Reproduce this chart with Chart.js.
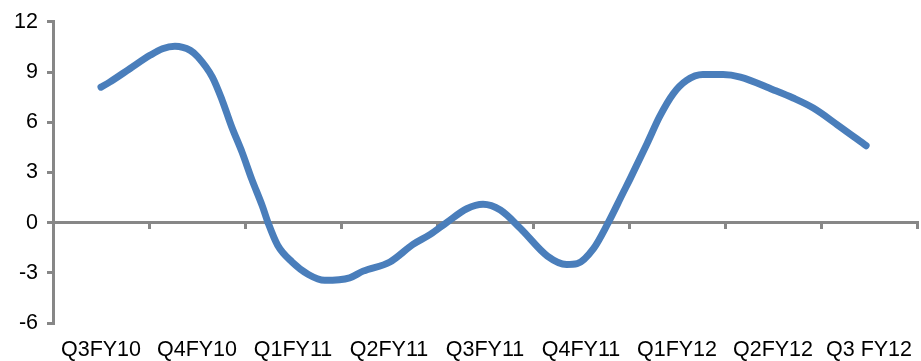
<!DOCTYPE html>
<html>
<head>
<meta charset="utf-8">
<script src="https://cdn.jsdelivr.net/npm/chart.js@4/dist/chart.umd.min.js"></script>
<style>
  html, body { margin: 0; padding: 0; background: #ffffff; overflow: hidden; }
  #wrap { width: 921px; height: 361px; position: relative; }
</style>
</head>
<body>
<div id="wrap"><canvas id="chart"></canvas></div>
<script>
// Quarter labels along the bottom axis
const quarters = ['Q3FY10', 'Q4FY10', 'Q1FY11', 'Q2FY11', 'Q3FY11', 'Q4FY11', 'Q1FY12', 'Q2FY12', 'Q3 FY12'];

// Observation position, in quarters from Q3FY10 (0 = Q3FY10, 8 = Q3 FY12)
const period = [
  0.00, 0.09, 0.30, 0.51, 0.64, 0.77, 0.93, 1.01, 1.16, 1.26, 1.36, 1.47, 1.57, 1.68,
  1.74, 1.84, 1.99, 2.16, 2.33, 2.59, 2.73, 3.01, 3.25, 3.43, 3.60, 3.81, 3.98, 4.16,
  4.37, 4.65, 4.85, 4.96, 5.13, 5.27, 5.44, 5.51, 5.69, 5.82, 5.96, 6.10, 6.27, 6.48,
  6.66, 7.00, 7.21, 7.42, 7.67, 7.97
];

// Growth values (%)
const growth = [
  8.1, 8.4, 9.2, 10.0, 10.4, 10.55, 10.3, 9.9, 8.7, 7.35, 5.75, 4.2, 2.6, 1.0,
  0.0, -1.35, -2.35, -3.1, -3.45, -3.3, -2.9, -2.35, -1.3, -0.7, 0.0, 0.83, 1.1, 0.75,
  -0.35, -2.0, -2.5, -2.45, -1.55, -0.15, 1.8, 2.6, 4.75, 6.35, 7.7, 8.5, 8.85, 8.85,
  8.7, 7.95, 7.45, 6.85, 5.85, 4.6
];

// Value-axis ticks
const yTicks = [-6, -3, 0, 3, 6, 9, 12];

const axisGray = '#878787';
const labelFont = { family: '"Liberation Sans", Arial, sans-serif', size: 21.5 };

const points = period.map((p, i) => ({ x: p, y: growth[i] }));

// Keep the plot edges fixed: no extra side padding for edge labels
const noSidePadding = (axis) => { axis.paddingLeft = 0; axis.paddingRight = 0; };

new Chart(document.getElementById('chart'), {
  type: 'line',
  data: {
    datasets: [{
      data: points,
      borderColor: '#4A7EBB',
      borderWidth: 7,
      borderCapStyle: 'round',
      borderJoinStyle: 'round',
      pointRadius: 0,
      cubicInterpolationMode: 'monotone',
      fill: false,
      xAxisID: 'x',
      yAxisID: 'y'
    }]
  },
  options: {
    responsive: true,
    maintainAspectRatio: false,
    animation: false,
    events: [],
    layout: { padding: { top: 15, right: 4, left: 0, bottom: 0 } },
    plugins: { legend: { display: false }, tooltip: { enabled: false } },
    scales: {
      // Category labels at the bottom of the plot
      x: {
        type: 'linear',
        position: 'bottom',
        min: -0.5,
        max: 8.5,
        afterBuildTicks: (axis) => { axis.ticks = quarters.map((_, i) => ({ value: i })); },
        afterFit: (axis) => { axis.height = 38; noSidePadding(axis); },
        grid: { display: false, drawTicks: false },
        border: { display: false },
        ticks: {
          autoSkip: false,
          maxRotation: 0,
          padding: 14,
          color: '#000000',
          font: labelFont,
          callback: (v) => quarters[Math.round(v)] ?? ''
        }
      },
      // Horizontal axis line drawn through zero, with quarter dividers
      xZero: {
        type: 'linear',
        position: { y: 0 },
        min: -0.5,
        max: 8.5,
        afterBuildTicks: (axis) => {
          axis.ticks = quarters.concat(['']).map((_, i) => ({ value: i - 0.5 }));
        },
        afterFit: noSidePadding,
        grid: {
          display: true,
          drawOnChartArea: false,
          drawTicks: true,
          tickLength: 5,
          color: axisGray,
          lineWidth: 3
        },
        border: { display: true, color: axisGray, width: 3 },
        ticks: { display: false }
      },
      y: {
        type: 'linear',
        position: 'left',
        min: -6,
        max: 12,
        afterBuildTicks: (axis) => { axis.ticks = yTicks.map(v => ({ value: v })); },
        afterFit: (axis) => { axis.width = 53; },
        grid: {
          display: true,
          drawOnChartArea: false,
          drawTicks: true,
          tickLength: 6,
          color: axisGray,
          lineWidth: 3
        },
        border: { display: true, color: axisGray, width: 3 },
        ticks: {
          padding: 9,
          color: '#000000',
          font: labelFont
        }
      }
    }
  }
});
</script>
</body>
</html>
